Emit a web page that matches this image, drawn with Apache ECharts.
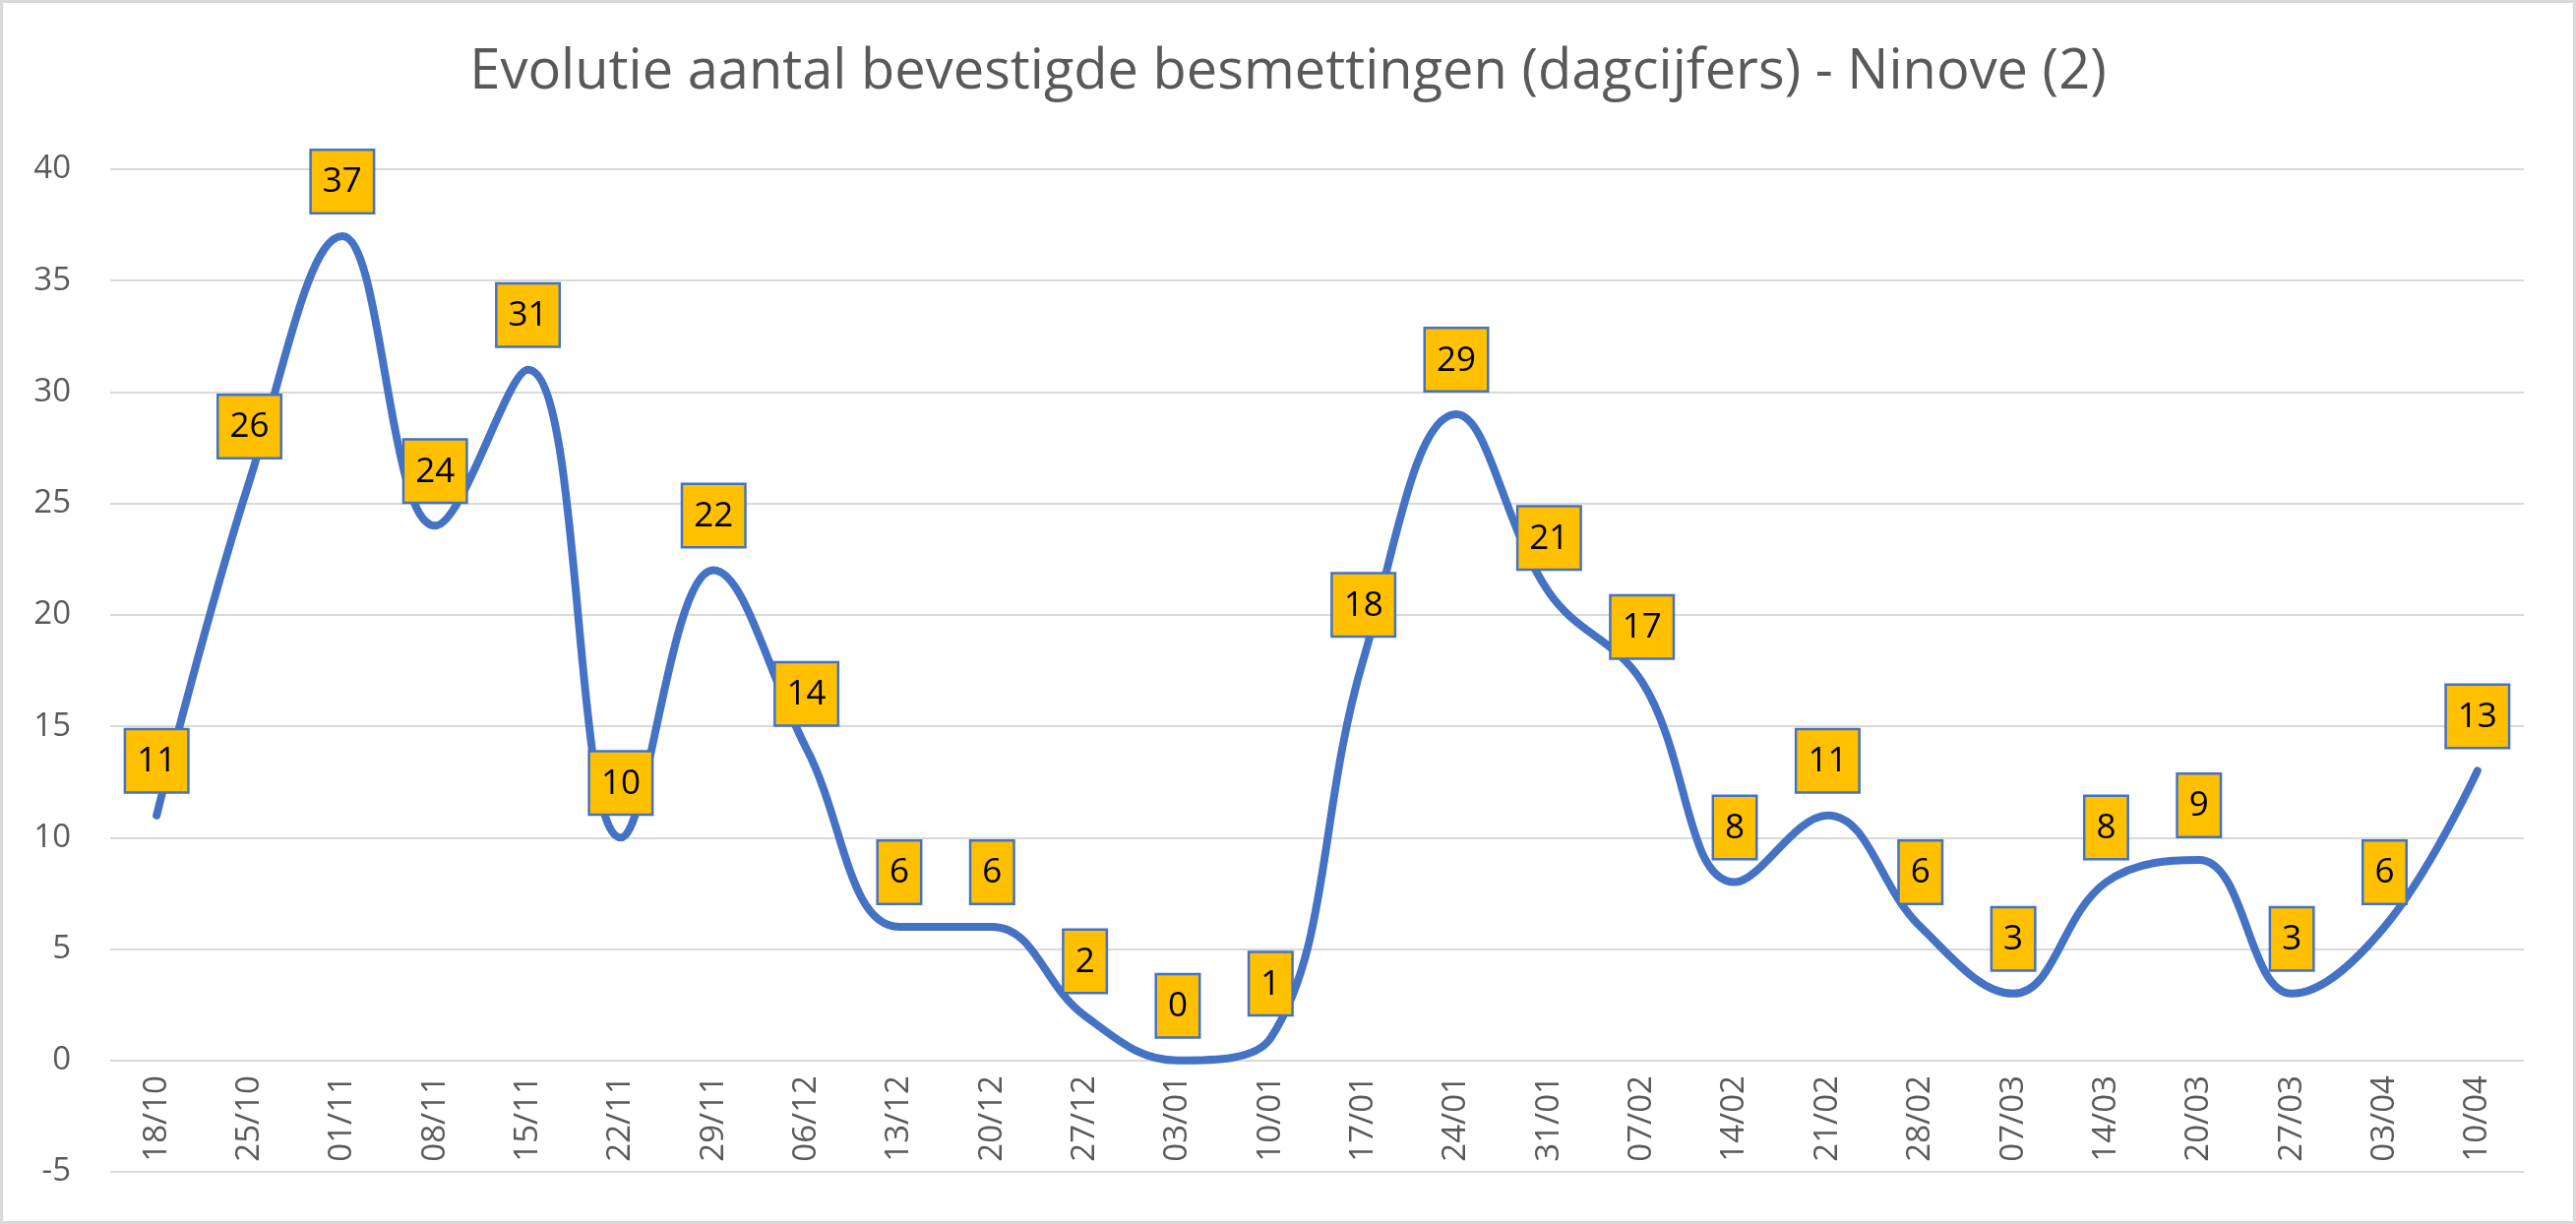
<!DOCTYPE html>
<html>
<head>
<meta charset="utf-8">
<script src="https://cdn.jsdelivr.net/npm/echarts@6/dist/echarts.min.js"></script>
<style>
html,body{margin:0;padding:0;background:#fff;}
#c{width:2618px;height:1244px;box-sizing:border-box;border:3px solid #d9d9d9;}
</style>
</head>
<body>
<div id="c"></div>
<script>
const titleText = 'Evolutie aantal bevestigde besmettingen (dagcijfers) - Ninove (2)';
const categories = ['18/10','25/10','01/11','08/11','15/11','22/11','29/11','06/12','13/12','20/12','27/12','03/01','10/01','17/01','24/01','31/01','07/02','14/02','21/02','28/02','07/03','14/03','20/03','27/03','03/04','10/04'];
const values = [11,26,37,24,31,10,22,14,6,6,2,0,1,18,29,21,17,8,11,6,3,8,9,3,6,13];
const yMin = -5, yMax = 40, yStep = 5;

const chart = echarts.init(document.getElementById('c'), null, {renderer:'canvas'});
const gridTop = 169, gridBottom = 50;
const plotH = 1244 - gridTop - gridBottom;
// distance from plot bottom up to the zero line (layout only)
const zeroOffset = plotH * (0 - yMin) / (yMax - yMin);

chart.setOption({
  animation:false,
  title:{
    text:titleText, left:'center', top:38,
    textStyle:{fontFamily:'Open Sans', fontSize:56, fontWeight:'normal', color:'#595959'}
  },
  grid:{left:109, right:50, top:gridTop, bottom:gridBottom, outerBoundsMode:'none', containLabel:false},
  xAxis:{
    type:'category', data:categories, boundaryGap:true,
    offset:-zeroOffset,
    axisLine:{show:false, onZero:false},
    axisTick:{show:false},
    axisLabel:{rotate:90, margin:16, fontFamily:'Open Sans', fontSize:33, color:'#595959', interval:0}
  },
  yAxis:{
    type:'value', min:yMin, max:yMax, interval:yStep,
    axisLine:{show:false}, axisTick:{show:false},
    splitLine:{lineStyle:{color:'#d9d9d9', width:2}},
    axisLabel:{margin:40, fontFamily:'Open Sans', fontSize:33, color:'#595959'}
  },
  series:[{
    type:'line', data:values, smooth:0.4,
    symbol:'circle', symbolSize:1, showSymbol:true,
    itemStyle:{color:'rgba(0,0,0,0)'},
    lineStyle:{color:'#4472C4', width:8, cap:'round'},
    label:{
      show:true, position:'top', distance:24,
      fontFamily:'Open Sans', fontSize:35, color:'#000', lineHeight:38,
      backgroundColor:'#FFC000', borderColor:'#4472C4', borderWidth:2.5,
      padding:[13,11,11,11]
    }
  }]
});
</script>
</body>
</html>
